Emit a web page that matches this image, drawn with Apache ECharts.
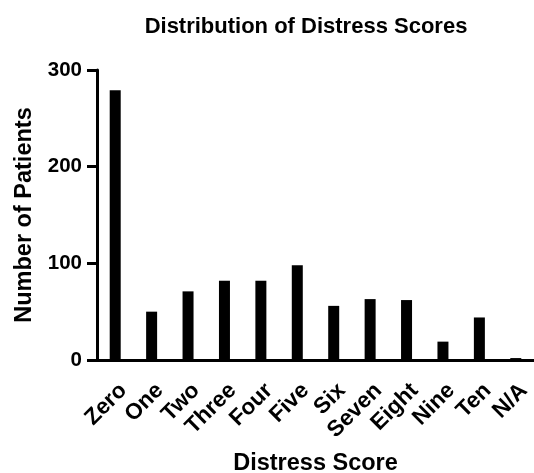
<!DOCTYPE html>
<html>
<head>
<meta charset="utf-8">
<script src="https://cdn.jsdelivr.net/npm/echarts@6/dist/echarts.min.js"></script>
<style>
  html, body { margin: 0; padding: 0; background: #fff; }
  #chart { width: 534px; height: 473px; }
</style>
</head>
<body>
<div id="chart"></div>
<script>
// Distress score categories and patient counts
const categories = ['Zero', 'One', 'Two', 'Three', 'Four', 'Five', 'Six', 'Seven', 'Eight', 'Nine', 'Ten', 'N/A'];
const patients = [279, 50, 71, 82, 82, 98, 56, 63, 62, 19, 44, 2];
const yTicks = [0, 100, 200, 300];

const FONT = '"Liberation Sans", Arial, Helvetica, sans-serif';

const chart = echarts.init(document.getElementById('chart'), null, { renderer: 'canvas' });

chart.setOption({
  animation: false,
  backgroundColor: '#ffffff',
  title: {
    text: 'Distribution of Distress Scores',
    left: 301,
    top: 11,
    textAlign: 'center',
    textStyle: { fontFamily: FONT, fontWeight: 'bold', fontSize: 22, color: '#000' }
  },
  grid: { left: 97, right: 0, top: 70, bottom: 113, containLabel: false, outerBoundsMode: 'none' },
  xAxis: {
    type: 'category',
    data: categories,
    name: 'Distress Score',
    nameLocation: 'middle',
    nameGap: 92,
    nameTextStyle: { fontFamily: FONT, fontWeight: 'bold', fontSize: 23.5, color: '#000' },
    axisLine: { lineStyle: { color: '#000', width: 3 } },
    axisTick: { alignWithLabel: true, length: 11, lineStyle: { color: '#000', width: 3 } },
    axisLabel: {
      rotate: 45,
      margin: 19,
      interval: 0,
      verticalAlign: 'top',
      fontFamily: FONT,
      fontWeight: 'bold',
      fontSize: 22.5,
      color: '#000'
    },
    splitLine: { show: false }
  },
  yAxis: {
    type: 'value',
    min: yTicks[0],
    max: yTicks[yTicks.length - 1],
    interval: 100,
    name: 'Number of Patients',
    nameLocation: 'middle',
    nameGap: 60,
    nameTextStyle: { fontFamily: FONT, fontWeight: 'bold', fontSize: 23.5, color: '#000' },
    axisLine: { show: true, lineStyle: { color: '#000', width: 3 } },
    axisTick: { show: true, length: 10, lineStyle: { color: '#000', width: 3 } },
    axisLabel: {
      margin: 15,
      fontFamily: FONT,
      fontWeight: 'bold',
      fontSize: 20.5,
      color: '#000'
    },
    splitLine: { show: false }
  },
  series: [{
    type: 'bar',
    data: patients,
    barWidth: 11,
    itemStyle: { color: '#000' }
  }]
});
</script>
</body>
</html>
